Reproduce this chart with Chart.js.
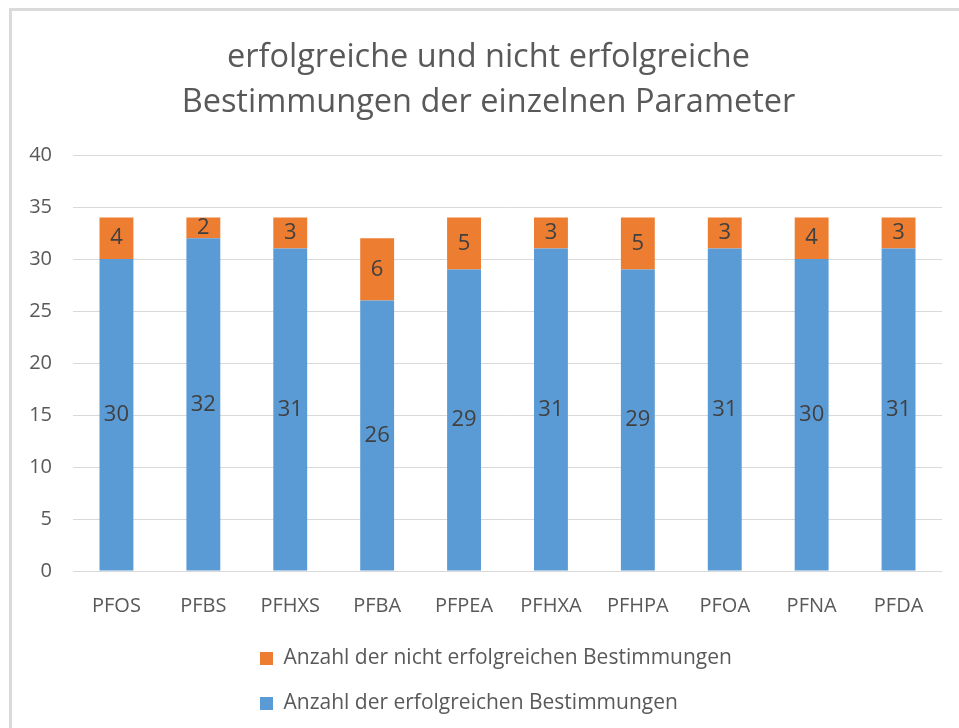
<!DOCTYPE html>
<html>
<head>
<meta charset="utf-8">
<script src="https://cdn.jsdelivr.net/npm/chart.js@4"></script>
<style>
  html, body { margin: 0; padding: 0; background: #fff; }
  #wrap { position: relative; width: 959px; height: 728px; }
  #frame { position: absolute; left: 9px; top: 8px; right: 0; bottom: 0;
           border-top: 3px solid #dadada; border-left: 3px solid #dadada; pointer-events: none; }
  canvas { position: absolute; left: 0; top: 0; }
</style>
</head>
<body>
<div id="wrap">
  <canvas id="chart" width="959" height="728"></canvas>
  <div id="frame"></div>
</div>
<script>
// data
var parameters = ['PFOS', 'PFBS', 'PFHXS', 'PFBA', 'PFPEA', 'PFHXA', 'PFHPA', 'PFOA', 'PFNA', 'PFDA'];
var erfolgreich = [30, 32, 31, 26, 29, 31, 29, 31, 30, 31];
var nichtErfolgreich = [4, 2, 3, 6, 5, 3, 5, 3, 4, 3];
var yTicks = [0, 5, 10, 15, 20, 25, 30, 35, 40];

var colors = {
    blue: '#5b9bd5',
    orange: '#ed7d31',
    text: '#595959',
    label: '#404040',
    grid: '#d9d9d9'
};
var fontFamily = '"Open Sans", Lato, sans-serif';

// numbers in the middle of each bar segment
var barValues = {
    id: 'barValues',
    afterDatasetsDraw: function(chart) {
        var ctx = chart.ctx;
        ctx.save();
        ctx.font = '22px ' + fontFamily;
        ctx.fillStyle = colors.label;
        ctx.textAlign = 'center';
        ctx.textBaseline = 'middle';
        chart.data.datasets.forEach(function(ds, i) {
            chart.getDatasetMeta(i).data.forEach(function(bar, j) {
                ctx.fillText(ds.data[j], bar.x, (bar.y + bar.base) / 2);
            });
        });
        ctx.restore();
    }
};

// title centred on the framed area, legend as a left aligned column under the axis
var placeBoxes = {
    id: 'placeBoxes',
    afterLayout: function(chart) {
        var t = chart.titleBlock;
        t.left = 18; t.right = 959; t.width = 941;
        var lg = chart.legend;
        lg.left = 236; lg.right = 936; lg.width = 700;
        lg.top = 624; lg.bottom = 727; lg.height = 103;
    }
};

new Chart(document.getElementById('chart'), {
    type: 'bar',
    data: {
        labels: parameters,
        datasets: [{
            label: 'Anzahl der erfolgreichen Bestimmungen',
            data: erfolgreich,
            backgroundColor: colors.blue,
            categoryPercentage: 1,
            barPercentage: 0.39
        }, {
            label: 'Anzahl der nicht erfolgreichen Bestimmungen',
            data: nichtErfolgreich,
            backgroundColor: colors.orange,
            categoryPercentage: 1,
            barPercentage: 0.39
        }]
    },
    options: {
        responsive: false,
        animation: false,
        layout: { padding: { left: 0, right: 17, top: 0, bottom: 7 } },
        plugins: {
            title: {
                display: true,
                text: ['erfolgreiche und nicht erfolgreiche', 'Bestimmungen der einzelnen Parameter'],
                color: colors.text,
                font: { family: fontFamily, size: 32.5, weight: 'normal', lineHeight: 1.385 },
                padding: { top: 35.5, bottom: 29.5 }
            },
            legend: {
                position: 'bottom',
                align: 'start',
                fullSize: false,
                reverse: true,
                labels: {
                    color: colors.text,
                    font: { family: fontFamily, size: 21 },
                    boxWidth: 13,
                    boxHeight: 13,
                    padding: 24
                }
            },
            tooltip: { enabled: false }
        },
        scales: {
            x: {
                stacked: true,
                grid: { display: false },
                border: { display: false },
                ticks: { color: colors.text, font: { family: fontFamily, size: 20 }, padding: 15 },
                afterFit: function(scale) { scale.height = 50; }
            },
            y: {
                stacked: true,
                min: yTicks[0],
                max: yTicks[yTicks.length - 1],
                grid: { color: colors.grid, lineWidth: 1, drawTicks: false },
                border: { display: false },
                ticks: {
                    stepSize: yTicks[1] - yTicks[0],
                    color: colors.text,
                    font: { family: fontFamily, size: 20 },
                    padding: 21
                },
                afterFit: function(scale) { scale.width = 73; }
            }
        }
    },
    plugins: [barValues, placeBoxes]
});
</script>
</body>
</html>
